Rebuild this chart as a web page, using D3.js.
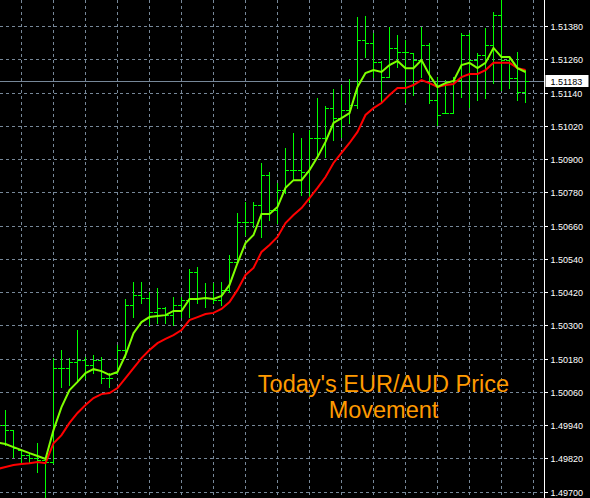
<!DOCTYPE html>
<html>
<head>
<meta charset="utf-8">
<script src="https://cdn.jsdelivr.net/npm/d3@7"></script>
<style>
  html, body { margin: 0; padding: 0; background: #000; }
  svg { display: block; }
</style>
</head>
<body>
<svg id="chart" width="590" height="498"></svg>
<script>
// ---- data (bar index -1 .. 65) ----
const opens = [1.49922, 1.49940, 1.49922, 1.49850, 1.49832, 1.49821, 1.49814, 1.49807, 1.50146, 1.50146,
  1.50168, 1.50175, 1.50157, 1.50175, 1.50110, 1.50128, 1.50211, 1.50373, 1.50409, 1.50399,
  1.50348, 1.50363, 1.50337, 1.50373, 1.50391, 1.50492, 1.50399, 1.50399, 1.50391, 1.50427,
  1.50529, 1.50673, 1.50673, 1.50734, 1.50842, 1.50716, 1.50788, 1.50860, 1.50860, 1.50853,
  1.50976, 1.50976, 1.51084, 1.51048, 1.51077, 1.51095, 1.51330, 1.51319, 1.51250, 1.51196,
  1.51301, 1.51286, 1.51283, 1.51257, 1.51311, 1.51113, 1.51066, 1.51066, 1.51185, 1.51348,
  1.51257, 1.51275, 1.51311, 1.51420, 1.51257, 1.51192, 1.51142];
const highs = [1.49958, 1.49995, 1.49922, 1.49850, 1.49839, 1.49875, 1.49821, 1.50182, 1.50211, 1.50182,
  1.50283, 1.50186, 1.50193, 1.50186, 1.50128, 1.50229, 1.50395, 1.50456, 1.50456, 1.50420,
  1.50435, 1.50366, 1.50402, 1.50402, 1.50503, 1.50510, 1.50453, 1.50453, 1.50456, 1.50554,
  1.50705, 1.50745, 1.50745, 1.50886, 1.50853, 1.50814, 1.50940, 1.50994, 1.50976, 1.51005,
  1.51120, 1.51091, 1.51153, 1.51167, 1.51189, 1.51412, 1.51416, 1.51355, 1.51254, 1.51376,
  1.51348, 1.51330, 1.51283, 1.51376, 1.51319, 1.51196, 1.51185, 1.51196, 1.51355, 1.51355,
  1.51283, 1.51373, 1.51431, 1.51480, 1.51268, 1.51286, 1.51221];
const lows = [1.49886, 1.49868, 1.49825, 1.49803, 1.49803, 1.49771, 1.49681, 1.49803, 1.50078, 1.50085,
  1.50103, 1.50110, 1.50128, 1.50092, 1.50078, 1.50128, 1.50186, 1.50330, 1.50381, 1.50301,
  1.50308, 1.50308, 1.50301, 1.50330, 1.50330, 1.50381, 1.50366, 1.50381, 1.50373, 1.50420,
  1.50529, 1.50626, 1.50655, 1.50619, 1.50680, 1.50669, 1.50778, 1.50824, 1.50770, 1.50745,
  1.50907, 1.50907, 1.50969, 1.50980, 1.51030, 1.51084, 1.51268, 1.51196, 1.51102, 1.51196,
  1.51232, 1.51106, 1.51131, 1.51196, 1.51102, 1.51023, 1.51066, 1.51066, 1.51124, 1.51088,
  1.51113, 1.51120, 1.51174, 1.51149, 1.51156, 1.51113, 1.51106];
const closes = [1.49940, 1.49922, 1.49857, 1.49832, 1.49821, 1.49814, 1.49807, 1.50146, 1.50146, 1.50168,
  1.50175, 1.50157, 1.50175, 1.50110, 1.50110, 1.50211, 1.50373, 1.50409, 1.50399, 1.50348,
  1.50363, 1.50337, 1.50373, 1.50391, 1.50492, 1.50399, 1.50399, 1.50391, 1.50427, 1.50529,
  1.50673, 1.50673, 1.50734, 1.50842, 1.50716, 1.50788, 1.50860, 1.50860, 1.50853, 1.50976,
  1.50976, 1.51084, 1.51048, 1.51077, 1.51095, 1.51330, 1.51319, 1.51250, 1.51196, 1.51301,
  1.51286, 1.51286, 1.51257, 1.51311, 1.51113, 1.51059, 1.51066, 1.51185, 1.51348, 1.51257,
  1.51275, 1.51311, 1.51420, 1.51257, 1.51192, 1.51142, 1.51183];
const maFast = [1.49877, 1.49872, 1.49861, 1.49850, 1.49839, 1.49829, 1.49818, 1.49922, 1.50005, 1.50067,
  1.50096, 1.50128, 1.50142, 1.50135, 1.50121, 1.50132, 1.50193, 1.50272, 1.50312, 1.50330,
  1.50334, 1.50337, 1.50352, 1.50352, 1.50395, 1.50395, 1.50399, 1.50395, 1.50406, 1.50446,
  1.50525, 1.50597, 1.50626, 1.50702, 1.50702, 1.50727, 1.50796, 1.50824, 1.50824, 1.50860,
  1.50907, 1.50962, 1.51030, 1.51048, 1.51066, 1.51160, 1.51210, 1.51221, 1.51214, 1.51239,
  1.51254, 1.51228, 1.51228, 1.51257, 1.51203, 1.51160, 1.51174, 1.51182, 1.51239, 1.51247,
  1.51228, 1.51247, 1.51301, 1.51268, 1.51268, 1.51228, 1.51214];
const maSlow = [1.49782, 1.49789, 1.49796, 1.49800, 1.49803, 1.49807, 1.49803, 1.49875, 1.49904, 1.49948,
  1.49984, 1.50013, 1.50038, 1.50052, 1.50056, 1.50074, 1.50110, 1.50146, 1.50182, 1.50211,
  1.50236, 1.50251, 1.50265, 1.50283, 1.50319, 1.50330, 1.50341, 1.50345, 1.50359, 1.50384,
  1.50428, 1.50482, 1.50507, 1.50565, 1.50590, 1.50619, 1.50669, 1.50698, 1.50723, 1.50759,
  1.50796, 1.50835, 1.50886, 1.50922, 1.50958, 1.50998, 1.51059, 1.51084, 1.51102, 1.51131,
  1.51156, 1.51156, 1.51167, 1.51185, 1.51174, 1.51160, 1.51167, 1.51171, 1.51196, 1.51207,
  1.51207, 1.51221, 1.51247, 1.51247, 1.51247, 1.51228, 1.51221];
const priceTicks = [1.49700, 1.49820, 1.49940, 1.50060, 1.50180, 1.50300, 1.50420, 1.50540,
  1.50660, 1.50780, 1.50900, 1.51020, 1.51140, 1.51260, 1.51380];
const currentPrice = 1.51183;
const titleLines = ["Today's EUR/AUD Price", "Movement"];

// ---- layout ----
const W = 590, H = 498, plotRight = 544;
const firstIndex = -1;
const bars = opens.map((o, k) => ({
  i: k + firstIndex, o: o, h: highs[k], l: lows[k], c: closes[k],
  fast: maFast[k], slow: maSlow[k]
}));

const x = d3.scaleLinear().domain([0, 65]).range([5.5, 525.5]);
const y = d3.scaleLinear().domain([1.49700, 1.51380]).range([491.7, 26]);
const py = v => Math.round(y(v)) + 0.5;
const ry = v => Math.round(y(v));

const svg = d3.select("#chart");
svg.append("rect").attr("width", W).attr("height", H).attr("fill", "#000");

const plot = svg.append("g");

// grid
const gridColor = "#778899";
plot.append("g").selectAll("line").data(priceTicks).join("line")
  .attr("x1", 0).attr("x2", plotRight)
  .attr("y1", d => py(d)).attr("y2", d => py(d))
  .attr("stroke", gridColor).attr("stroke-width", 1)
  .attr("stroke-dasharray", "3,3").attr("shape-rendering", "crispEdges");

const vGrid = d3.range(2, 67, 4);
plot.append("g").selectAll("line").data(vGrid).join("line")
  .attr("x1", d => Math.floor(x(d)) + 0.5).attr("x2", d => Math.floor(x(d)) + 0.5)
  .attr("y1", 0).attr("y2", H)
  .attr("stroke", gridColor).attr("stroke-width", 1)
  .attr("stroke-dasharray", "3,3").attr("shape-rendering", "crispEdges");

// current price line
plot.append("line")
  .attr("x1", 0).attr("x2", plotRight)
  .attr("y1", py(currentPrice)).attr("y2", py(currentPrice))
  .attr("stroke", gridColor).attr("stroke-width", 1)
  .attr("shape-rendering", "crispEdges");

// OHLC bars (pixel rects)
const barColor = "#00ff00";
const bg = plot.append("g").attr("fill", barColor).attr("shape-rendering", "crispEdges");
const barG = bg.selectAll("g").data(bars).join("g");
barG.append("rect")
  .attr("x", d => Math.floor(x(d.i))).attr("width", 1)
  .attr("y", d => ry(d.h)).attr("height", d => ry(d.l) - ry(d.h) + 1);
barG.append("rect")
  .attr("x", d => Math.floor(x(d.i)) - 3).attr("width", 3)
  .attr("y", d => ry(d.o)).attr("height", 1);
barG.append("rect")
  .attr("x", d => Math.floor(x(d.i)) + 1).attr("width", 3)
  .attr("y", d => ry(d.c)).attr("height", 1);

// moving averages
const lineSlow = d3.line().x(d => x(d.i)).y(d => y(d.slow));
const lineFast = d3.line().x(d => x(d.i)).y(d => y(d.fast));
plot.append("path").datum(bars).attr("d", lineSlow)
  .attr("fill", "none").attr("stroke", "#ff0000").attr("stroke-width", 2);
plot.append("path").datum(bars).attr("d", lineFast)
  .attr("fill", "none").attr("stroke", "#7fff00").attr("stroke-width", 2);

// title text
const title = svg.append("text")
  .attr("x", 383.5).attr("y", 392.3)
  .attr("text-anchor", "middle")
  .attr("font-family", "'Liberation Sans', Arial, sans-serif")
  .attr("font-size", "23.5px")
  .attr("fill", "#ff9a00");
title.selectAll("tspan").data(titleLines).join("tspan")
  .attr("x", 383.5).attr("dy", (d, k) => k === 0 ? 0 : 26)
  .text(d => d);

// right price axis
svg.append("rect").attr("x", plotRight + 1).attr("y", 0)
  .attr("width", W - plotRight - 1).attr("height", H).attr("fill", "#000");
svg.append("line")
  .attr("x1", plotRight + 0.5).attr("x2", plotRight + 0.5)
  .attr("y1", 0).attr("y2", H)
  .attr("stroke", "#ffffff").attr("stroke-width", 1)
  .attr("shape-rendering", "crispEdges");

const axis = d3.axisRight(y)
  .tickValues(priceTicks)
  .tickFormat(d3.format(".5f"))
  .tickSize(3).tickSizeOuter(0).tickPadding(3);
const ag = svg.append("g")
  .attr("transform", `translate(${plotRight + 0.5},0)`)
  .call(axis);
ag.select(".domain").remove();
ag.selectAll(".tick").attr("transform", d => `translate(0,${py(d)})`);
ag.selectAll(".tick line").attr("stroke", "#ffffff").attr("shape-rendering", "crispEdges")
  .attr("x1", 0).attr("x2", 3);
ag.selectAll(".tick text")
  .attr("x", 6)
  .attr("fill", "#ffffff")
  .attr("font-family", "'Liberation Sans', Arial, sans-serif")
  .attr("font-size", "9px")
  .attr("dy", "0.35em");

// current price label
const cpY = py(currentPrice);
svg.append("rect")
  .attr("x", plotRight + 1.5).attr("y", cpY - 6.5)
  .attr("width", 43).attr("height", 12)
  .attr("fill", "#ffffff");
svg.append("text")
  .attr("x", plotRight + 6.5).attr("y", cpY)
  .attr("dy", "0.35em")
  .attr("fill", "#000000")
  .attr("font-family", "'Liberation Sans', Arial, sans-serif")
  .attr("font-size", "9px")
  .text(d3.format(".5f")(currentPrice));
</script>
</body>
</html>
